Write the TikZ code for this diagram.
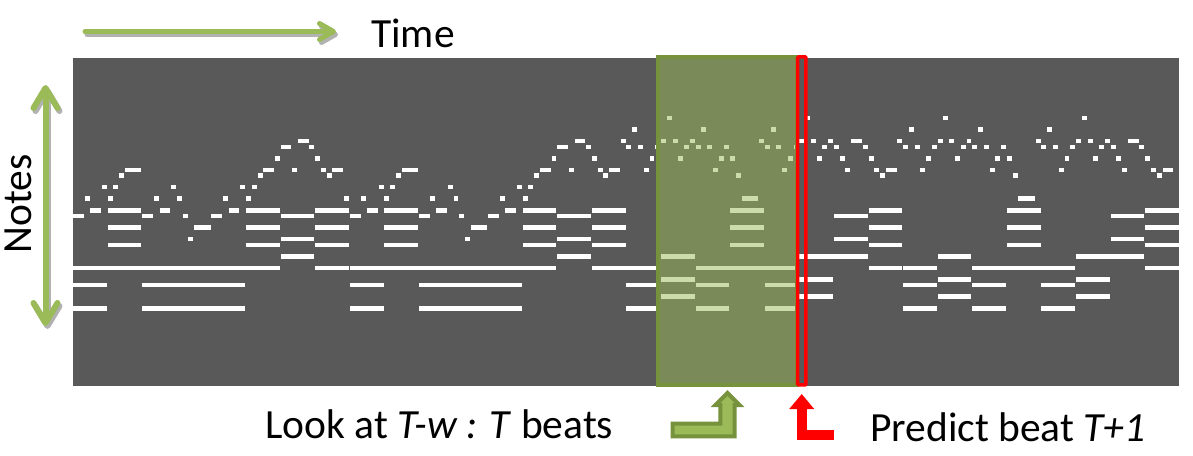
\documentclass[tikz,border=0pt]{standalone}
\usepackage{fontspec}
\setmainfont{Carlito}
\usepackage{xcolor}
\usetikzlibrary{positioning,arrows.meta}
\definecolor{rollgray}{HTML}{595959}
\definecolor{lookgreen}{HTML}{9BBB59}
\definecolor{lookedge}{HTML}{76923C}

% piano roll, row/column/length in grid cells
\newcommand\partA{14/39/2, 15/36/2, 15/41/1, 17/35/1, 17/42/1,
  19/9/3, 19/33/2, 19/38/1, 19/43/1, 19/45/2,
  20/8/1, 20/32/1, 20/44/1,
  22/5/1, 22/7/1, 22/17/1, 22/29/1, 22/31/1,
  24/2/1, 24/6/1, 24/14/1, 24/18/1, 24/26/1, 24/30/1,
  26/3/2, 26/6/6, 26/15/2, 26/27/2, 26/30/6, 26/42/6,
  27/0/2, 27/12/2, 27/19/1, 27/24/2, 27/36/6,
  29/6/6, 29/21/3, 29/30/6, 29/42/6,
  31/20/1, 31/36/6,
  32/6/6, 32/30/6, 32/42/6,
  34/36/6,
  36/0/36, 36/42/6,
  39/0/6, 39/12/18,
  43/0/6, 43/12/18}
\newcommand\partB{10/7/1, 10/31/1,
  12/1/1, 12/13/1, 12/25/1,
  14/6/1, 14/8/1, 14/11/1, 14/23/1, 14/30/1, 14/32/1, 14/35/1, 14/39/2,
  15/0/1, 15/2/1, 15/5/1, 15/10/1, 15/12/1, 15/14/1, 15/17/1, 15/24/1,
  15/26/1, 15/29/1, 15/34/1, 15/36/1, 15/41/1,
  17/4/1, 17/9/1, 17/16/1, 17/18/1, 17/28/1, 17/33/1, 17/37/1, 17/42/1,
  19/3/1, 19/15/1, 19/27/1, 19/38/1, 19/43/1, 19/45/2,
  20/19/1, 20/44/1,
  24/20/3,
  26/18/6, 26/42/6,
  27/36/6,
  29/18/6, 29/42/6,
  31/36/6,
  32/18/6, 32/42/6,
  34/6/6, 34/30/12,
  36/0/6, 36/12/18, 36/42/6,
  38/6/6, 38/30/6,
  39/0/6, 39/12/6, 39/24/6,
  41/6/6, 41/30/6,
  43/0/6, 43/12/6, 43/24/6}

\begin{document}
\begin{tikzpicture}[
  x=1pt, y=-1pt,
  font=\fontsize{41.5}{50}\selectfont,
  every node/.style={inner sep=0pt},
  note/.style={fill=white},
  shadowline/.style={gray!60},
  smallbarb/.tip={Straight Barb[length=14pt, width=16pt, round]},
  bigbarb/.tip={Straight Barb[length=20pt, width=24pt, round]},
  axisarrow/.style={line cap=round, line join=round}
]
  \useasboundingbox (0,0) rectangle (1193,455);

  % roll
  \begin{scope}[shift={(72.7,57.5)}, x=5.764pt, y=-5.764pt]
    \fill[rollgray] (0,0) rectangle (192,57);
    \foreach \o in {0,48}
      \foreach \r/\c/\n in \partA
        \fill[note] (\o+\c+0.07,\r+0.1) rectangle (\o+\c+\n-0.07,\r+0.9);
    \foreach \o in {96,144}
      \foreach \r/\c/\n in \partB
        \fill[note] (\o+\c+0.07,\r+0.1) rectangle (\o+\c+\n-0.07,\r+0.9);
    \foreach \r/\c in {24/47, 14/95, 14/143}
      \fill[note] (\c+0.07,\r+0.1) rectangle (\c+0.93,\r+0.9);
    % window T-w : T
    \fill[lookgreen, fill opacity=0.5] (101.55,-0.1) rectangle (125.6,56.85);
    \draw[lookedge, line width=4pt] (101.55,-0.1) rectangle (125.6,56.85);
    % beat T+1
    \draw[red, line width=3.5pt, rounded corners=1pt] (125.77,-0.1) rectangle (127.21,56.8);
  \end{scope}

  % axes
  \coordinate (time-s) at (85,31.5);
  \coordinate (time-e) at (336,31.5);
  \coordinate (notes-s) at (45.5,85);
  \coordinate (notes-e) at (45.5,326);
  \draw[shadowline, axisarrow, line width=5pt, -{smallbarb}] ([shift={(2,3)}]time-s) -- ([shift={(2,3)}]time-e);
  \draw[lookgreen, axisarrow, line width=5pt, -{smallbarb}] (time-s) -- (time-e);
  \draw[shadowline, axisarrow, line width=6pt, {bigbarb}-{bigbarb}] ([shift={(2,3)}]notes-s) -- ([shift={(2,3)}]notes-e);
  \draw[lookgreen, axisarrow, line width=6pt, {bigbarb}-{bigbarb}] (notes-s) -- (notes-e);

  \node[anchor=base west] (time) at (371,47) {Time};
  \node[rotate=90, anchor=base] (notes) at (31,204) {Notes};

  % bent arrows
  \draw[lookedge, fill=lookgreen, line width=4pt, line join=miter]
    (672.7,436.3) -- (734.7,436.3) -- (734.7,405) -- (739.5,405) -- (727.5,393)
    -- (715.5,405) -- (720.3,405) -- (720.3,423.7) -- (672.7,423.7) -- cycle;
  \draw[red, line width=10pt, line join=miter, -{Triangle[length=15pt, width=24pt]}]
    (834,435.3) -- (801.7,435.3) -- (801.7,394);

  \node[anchor=base west] (look) at (265,438.3) {Look at \textit{T-w : T} beats};
  \node[anchor=base west] (predict) at (870,441.7) {Predict beat \textit{T+1}};
\end{tikzpicture}
\end{document}
